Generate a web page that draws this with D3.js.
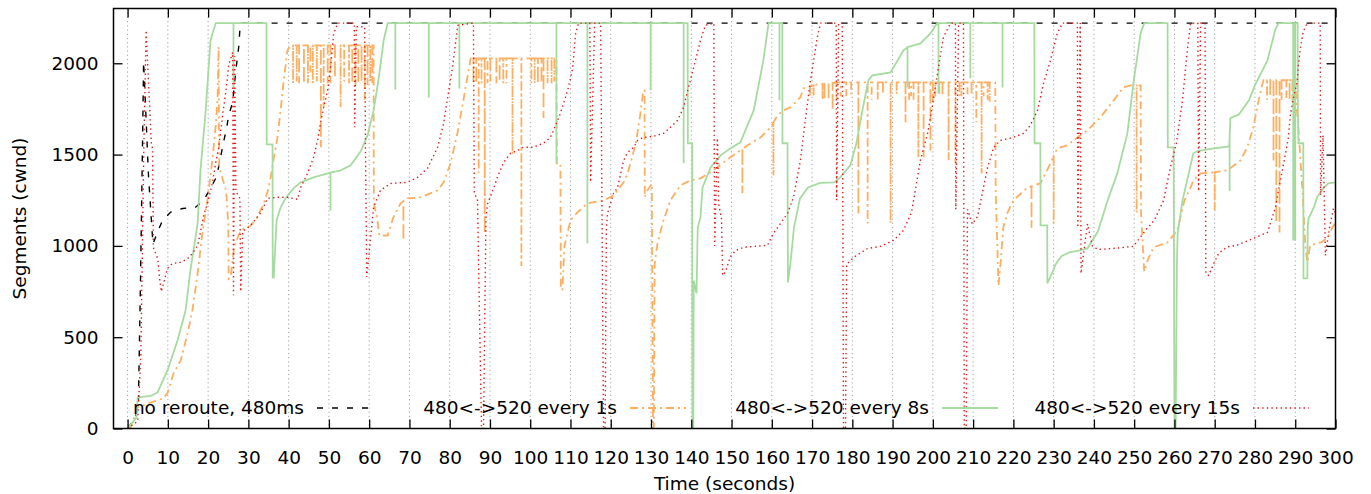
<!DOCTYPE html>
<html><head><meta charset="utf-8">
<script src="https://cdn.jsdelivr.net/npm/d3@7/dist/d3.min.js"></script>
<style>
html,body{margin:0;padding:0;background:#fff;}
text{font-family:"DejaVu Sans",sans-serif;fill:#000;}
</style></head>
<body>
<svg id="chart" width="1371" height="494"></svg>
<script>
// ---------------- data ----------------
const seriesNames = ["no reroute, 480ms", "480<->520 every 1s", "480<->520 every 8s", "480<->520 every 15s"];
const xTicks = d3.range(0, 301, 10);
const yTicks = [0, 500, 1000, 1500, 2000];
const xLabel = "Time (seconds)";
const yLabel = "Segments (cwnd)";

const noReroute = [[0,0],[2.0,60],[2.7,160],[3.2,800],[3.5,1250],[3.8,1700],[3.97,2010],[4.2,1900],[5.2,1380],[6.3,1010],[7.4,1075],[8.7,1140],[10.7,1185],[13.7,1205],[16.9,1212],[18.9,1250],[20.6,1315],[21.9,1370],[22.6,1430],[23.8,1565],[24.6,1645],[25.1,1715],[26.1,1785],[26.8,1945],[27.6,2090],[28.0,2220],[300,2220]];

const every1s = [[0,0],[0.75,5],[2.5,115],[5.7,142],[8.7,164],[9.9,192],[11.4,301],[13.2,373],[14.9,521],[16.1,647],[17.4,850],[18.6,1074],[19.9,1260],[21.1,1480],[21.9,1660],[22.35,1808],[22.6,2090],[22.75,1430],[24.5,1300],[25.0,1120],[25.1,820],[25.6,830],[26.5,1000],[28.1,1085],[30.5,1110],[32.0,1150],[33.8,1230],[34.8,1300],[35.5,1370],[36.3,1480],[37.2,1590],[38.0,1742],[38.7,1890],[39.7,2071],[40.5,2098],[61.1,2098],[61.15,1233],[62.0,1150],[62.5,1057],[64.6,1057],[66.0,1156],[67.8,1233],[69.5,1260],[72.8,1266],[75.2,1288],[77.0,1304],[78.5,1348],[80.2,1452],[81.9,1616],[83.4,1797],[85.2,2027],[106.5,2027],[106.6,1452],[107.5,1452],[107.6,760],[108.0,760],[108.5,1000],[110.0,1140],[111.7,1183],[114.2,1233],[118.2,1249],[120.7,1277],[123.2,1348],[124.2,1397],[126.2,1560],[127.2,1700],[128.1,1852],[128.4,1852],[128.45,1266],[129.0,1300],[130.2,1340],[130.5,0],[130.7,0],[130.9,900],[131.6,1014],[133.1,1140],[134.8,1249],[137.3,1331],[139.8,1359],[142.3,1370],[145.5,1414],[149.7,1485],[154.0,1551],[157.2,1594],[159.7,1649],[161.4,1715],[162.9,1742],[164.6,1759],[167.1,1814],[167.9,1863],[171.3,1885],[176.3,1895],[215.5,1895],[215.6,1300],[216.3,783],[216.8,900],[217.5,1100],[218.5,1180],[220.0,1249],[223.5,1320],[226.7,1342],[228.5,1420],[230.9,1534],[233.4,1551],[235.9,1594],[238.4,1633],[241.6,1704],[244.9,1797],[247.3,1868],[249.1,1879],[251.6,1879],[251.7,1180],[252.5,860],[253.5,930],[254.8,992],[258.3,1019],[260.7,1085],[262.5,1250],[264.0,1320],[264.7,1359],[266.5,1397],[269.7,1403],[273.2,1414],[276.4,1468],[278.1,1540],[279.6,1649],[280.9,1797],[281.9,1890],[282.1,1907],[290.1,1907],[290.2,1800],[290.8,1640],[291.3,1470],[291.8,1300],[292.5,1000],[293.0,910],[293.7,1003],[296.3,1019],[297.9,1041],[299.5,1112],[300,1120]];
const every1sDips = [[41.1,1890],[42.0,1900],[42.6,1890],[43.8,1890],[44.8,1890],[45.4,1950],[46.0,1890],[47.0,1900],[48.0,1540],[48.7,1760],[49.7,1890],[50.4,1890],[51.5,1920],[52.9,1760],[53.8,1900],[55.0,1890],[55.8,1890],[56.6,1880],[57.3,1890],[58.1,1900],[58.9,1800],[59.6,1880],[60.3,1900],[60.8,1890],[68.5,1030],[85.9,1890],[86.6,1890],[87.2,1400],[87.9,1890],[88.7,1070],[89.4,1890],[90.1,1900],[91.6,1890],[92.4,1900],[93.3,1890],[94.1,1890],[95.6,1500],[97.8,890],[100.3,1890],[101.1,1890],[101.9,1890],[102.8,1890],[103.3,1700],[104.3,1890],[105.3,1890],[106.0,1900],[152.7,1288],[160.4,1386],[169.5,1820],[170.4,1820],[172.6,1800],[173.1,1800],[174.1,1800],[175.1,1742],[176.1,1800],[177.1,1820],[178.5,1820],[179.7,1830],[181.5,1178],[183.8,1123],[184.8,1800],[186.3,1800],[187.6,1830],[189.5,1123],[191.0,1830],[193.2,1677],[194.1,1800],[194.6,1820],[195.2,1800],[196.4,1485],[197.7,1485],[199.4,1523],[200.0,1790],[200.6,1820],[201.6,1830],[202.4,1820],[203.9,1468],[205.6,1452],[206.6,1820],[207.1,1820],[208.6,1830],[209.6,1830],[210.8,1677],[212.1,1397],[212.6,1820],[213.6,1800],[214.1,1790],[224.5,1100],[230.0,1123],[250.6,1180],[270.0,1194],[283.0,1800],[283.8,1820],[284.6,1468],[285.3,1129],[286.1,1074],[286.6,1800],[287.8,1810],[288.6,1800],[289.3,1790]];

const every8s = [[0,0],[2.2,60],[2.5,170],[5.7,178],[7.4,197],[9.9,318],[12.4,482],[14.4,646],[15.6,866],[17.4,1123],[18.1,1414],[19.4,1742],[20.6,2126],[21.9,2220],[34.5,2220],[34.55,1556],[36.0,1556],[36.05,827],[36.3,827],[37.0,1140],[38.0,1210],[39.2,1260],[41.2,1315],[43.0,1348],[46.2,1375],[49.7,1397],[52.9,1414],[55.4,1441],[57.9,1518],[59.6,1605],[61.1,1742],[62.3,1907],[63.6,2126],[64.6,2220],[139.1,2220],[139.15,1562],[140.2,1562],[140.3,0],[140.5,0],[140.6,810],[141.3,740],[141.6,1100],[142.3,1160],[142.8,1320],[144.8,1430],[147.3,1496],[149.7,1534],[152.2,1567],[155.5,1742],[157.9,2016],[159.2,2220],[162.6,2220],[162.65,1562],[163.9,1562],[164.0,800],[164.6,900],[165.5,1100],[167.0,1260],[169.0,1320],[172.0,1345],[175.5,1348],[177.0,1375],[179.5,1441],[181.0,1562],[182.5,1742],[184.0,1907],[185.0,1934],[189.5,1950],[192.7,2071],[193.7,2088],[196.9,2109],[199.4,2164],[201.1,2220],[225.2,2220],[225.25,1562],[226.7,1562],[226.75,1112],[228.4,1112],[228.45,795],[229.2,830],[230.5,900],[232.0,945],[234.0,965],[236.5,975],[238.4,986],[241.0,1080],[243.4,1249],[245.8,1397],[248.3,1616],[249.8,1890],[251.6,2164],[252.5,2220],[258.3,2220],[258.35,1540],[259.8,1540],[260.0,0],[260.3,0],[260.6,900],[260.8,1068],[262.0,1249],[264.7,1507],[265.7,1518],[268.5,1530],[273.6,1545],[273.9,1700],[276.0,1720],[278.5,1797],[280.0,1880],[283.1,2016],[285.0,2180],[285.8,2220],[290.6,2220],[290.65,1770],[290.8,1562],[292.0,1562],[292.05,822],[293.0,822],[293.1,1100],[293.3,1150],[294.5,1205],[295.5,1270],[297.0,1315],[298.2,1342],[300,1348]];
const every8sDips = [[26.3,1863],[50.4,1194],[66.5,1857],[74.8,1813],[82.4,1862],[106.5,1452],[114.2,1013],[129.9,1852],[138.1,1452],[161.9,1797],[193.7,1868],[201.4,1835],[209.3,1918],[217.3,1868],[273.7,1300],[289.5,1030],[289.8,1030],[290.0,1030]];

const every15s = [[0,0],[2.5,40],[3.3,400],[4.0,1500],[4.6,2180],[5.9,1560],[6.2,1534],[6.4,990],[7.5,930],[8.0,810],[8.4,750],[9.9,877],[11.2,904],[13.2,910],[14.9,930],[16.1,959],[17.4,1003],[18.1,1074],[18.9,1167],[19.9,1238],[21.1,1348],[21.9,1457],[22.6,1534],[23.6,1715],[24.6,1879],[25.1,1989],[26.1,2060],[26.3,730],[26.6,2040],[26.9,1300],[27.9,1260],[28.1,750],[28.6,1080],[30.5,1110],[33.0,1180],[34.8,1260],[37.2,1266],[39.7,1266],[42.2,1255],[43.0,1320],[44.7,1397],[46.2,1485],[47.2,1578],[47.9,1671],[48.7,1759],[49.7,1852],[50.4,1978],[51.2,2164],[52.2,2220],[56.3,2220],[56.4,1650],[56.8,2200],[58.9,2200],[59.1,1480],[59.4,830],[61.1,1211],[62.8,1304],[65.3,1342],[69.5,1348],[72.0,1375],[74.5,1425],[77.0,1540],[78.5,1671],[79.5,1814],[80.7,1978],[82.0,2208],[85.9,2220],[86.1,1290],[86.9,1250],[87.9,0],[88.4,0],[89.0,1150],[89.4,1230],[90.9,1315],[91.9,1380],[93.4,1457],[95.1,1507],[96.9,1523],[98.3,1540],[100.8,1540],[103.3,1562],[105.0,1594],[105.8,1633],[107.5,1726],[109.3,1852],[110.5,1967],[111.3,2164],[112.0,2220],[114.8,2220],[115.0,1350],[116.0,2220],[117.5,2220],[118.2,0],[118.6,0],[118.9,1085],[119.2,1178],[120.7,1288],[121.7,1320],[123.2,1468],[124.2,1512],[125.7,1540],[126.7,1578],[128.1,1594],[130.6,1600],[133.1,1616],[134.8,1649],[136.6,1688],[138.1,1759],[139.3,1868],[140.6,1978],[142.3,2126],[143.5,2208],[145.6,2220],[145.8,1000],[146.5,1590],[146.8,1230],[147.5,1150],[147.8,838],[148.5,860],[149.7,940],[151.0,975],[153.0,992],[155.5,997],[158.9,1003],[160.4,1068],[163.9,1178],[165.4,1266],[167.1,1468],[168.4,1704],[169.6,1907],[171.3,2142],[172.1,2220],[176.0,2220],[176.1,1250],[176.6,2220],[177.5,2220],[177.8,0],[178.3,0],[178.6,900],[180.5,940],[183.8,986],[187.0,997],[190.2,1030],[192.7,1085],[194.7,1183],[196.9,1468],[198.7,1616],[200.1,1797],[201.4,1978],[202.6,2142],[204.4,2220],[205.6,2220],[205.7,1200],[206.4,2220],[207.6,2220],[207.8,0],[208.3,0],[208.6,1200],[209.8,1120],[211.1,1160],[213.6,1430],[215.1,1540],[216.8,1578],[220.0,1594],[222.5,1616],[224.2,1660],[226.0,1742],[227.5,1890],[229.2,2016],[230.9,2164],[232.2,2220],[235.9,2220],[236.0,1100],[236.6,2220],[236.8,850],[238.4,1120],[239.6,1000],[241.0,980],[244.8,986],[249.8,997],[252.8,1085],[255.0,1140],[257.3,1249],[259.0,1430],[260.5,1562],[262.0,1797],[263.2,2071],[264.0,2220],[265.8,2220],[266.0,1300],[266.5,2220],[267.6,2220],[267.8,850],[268.5,838],[269.7,900],[271.0,960],[273.2,995],[275.5,1003],[279.6,1041],[283.1,1074],[285.1,1211],[285.8,1300],[286.8,1414],[287.6,1507],[288.3,1594],[288.8,1720],[289.6,1814],[290.5,1900],[290.8,1995],[291.3,2088],[292.0,2175],[293.0,2220],[296.2,2220],[296.3,1277],[296.9,1605],[297.5,948],[298.5,1100],[299.5,1205],[300,1180]];

// ---------------- layout / style ----------------
const M = {left: 113.5, right: 1335.5, top: 8.5, bottom: 428.5};
const FONT = 18.5;

const svg = d3.select("#chart");
const x = d3.scaleLinear().domain([-3.5, 300]).range([M.left, M.right]);
const y = d3.scaleLinear().domain([0, 2300]).range([M.bottom, M.top]);

function withDips(points, dips) {
  const out = points.map(p => p.slice());
  const interp = t => {
    for (let i = 1; i < points.length; i++) {
      if (points[i][0] >= t) {
        const a = points[i-1], b = points[i];
        return a[1] + (b[1]-a[1]) * (t - a[0]) / (b[0] - a[0]);
      }
    }
    return points[points.length-1][1];
  };
  (dips || []).forEach(([t, low]) => {
    const v = interp(t);
    out.push([t, v], [t + 0.001, low], [t + 0.002, v]);
  });
  return out.sort((a, b) => a[0] - b[0]);
}

svg.append("defs").append("clipPath").attr("id", "plotclip")
  .append("rect").attr("x", M.left).attr("y", M.top)
  .attr("width", M.right - M.left).attr("height", M.bottom - M.top);

// vertical grid
svg.append("g").selectAll("line").data(xTicks).join("line")
  .attr("x1", d => x(d)).attr("x2", d => x(d))
  .attr("y1", M.top).attr("y2", M.bottom)
  .attr("stroke", "#a0a0a0").attr("stroke-width", 1)
  .attr("stroke-dasharray", "1.2,3");

const series = [
  {name: seriesNames[0], data: noReroute, dips: [], color: "#000000", width: 1.4, dash: "6,9"},
  {name: seriesNames[1], data: every1s, dips: every1sDips, color: "#fdae61", width: 1.8, dash: "8,4,2,4"},
  {name: seriesNames[2], data: every8s, dips: every8sDips, color: "#a6dba0", width: 1.8, dash: null},
  {name: seriesNames[3], data: every15s, dips: [], color: "#e41a1c", width: 1.4, dash: "1.4,3.2"}
];

const line = d3.line().x(d => x(d[0])).y(d => y(d[1]));
const plotG = svg.append("g").attr("clip-path", "url(#plotclip)");
series.forEach(s => {
  plotG.append("path")
    .attr("d", line(withDips(s.data, s.dips)))
    .attr("fill", "none")
    .attr("stroke", s.color)
    .attr("stroke-width", s.width)
    .attr("stroke-dasharray", s.dash);
});

// border
svg.append("rect").attr("x", M.left).attr("y", M.top)
  .attr("width", M.right - M.left).attr("height", M.bottom - M.top)
  .attr("fill", "none").attr("stroke", "#000").attr("stroke-width", 1.5);

// axes (ticks inward, mirrored)
const TL = 9;
const xb = svg.append("g").attr("transform", `translate(0,${M.bottom})`)
  .call(d3.axisBottom(x).tickValues(xTicks).tickSizeInner(-TL).tickSizeOuter(0).tickPadding(TL + 13).tickFormat(d3.format("d")));
const xt = svg.append("g").attr("transform", `translate(0,${M.top})`)
  .call(d3.axisTop(x).tickValues(xTicks).tickSizeInner(-TL).tickSizeOuter(0).tickFormat(""));
const yl = svg.append("g").attr("transform", `translate(${M.left},0)`)
  .call(d3.axisLeft(y).tickValues(yTicks).tickSizeInner(-TL).tickSizeOuter(0).tickPadding(TL + 6).tickFormat(d3.format("d")));
const yr = svg.append("g").attr("transform", `translate(${M.right},0)`)
  .call(d3.axisRight(y).tickValues(yTicks).tickSizeInner(-TL).tickSizeOuter(0).tickFormat(""));
[xb, xt, yl, yr].forEach(g => {
  g.select(".domain").remove();
  g.selectAll(".tick line").attr("stroke", "#000").attr("stroke-width", 1.3);
  g.selectAll("text").attr("font-family", "DejaVu Sans").attr("font-size", FONT).attr("fill", "#000");
});

// axis labels
svg.append("text").attr("x", (M.left + M.right) / 2).attr("y", 490)
  .attr("text-anchor", "middle").attr("font-size", FONT).text(xLabel);
svg.append("text").attr("transform", `translate(26,${(M.top + M.bottom) / 2}) rotate(-90)`)
  .attr("text-anchor", "middle").attr("font-size", FONT).text(yLabel);

// legend
const legendSampleX = [317, 630, 942, 1253];
const SAMPLE_LEN = 56;
const legY = 408;
const lg = svg.append("g");
series.forEach((s, i) => {
  lg.append("text").attr("x", legendSampleX[i] - 13).attr("y", legY)
    .attr("dy", "0.35em").attr("text-anchor", "end").attr("font-size", FONT).text(s.name);
  lg.append("line").attr("x1", legendSampleX[i]).attr("x2", legendSampleX[i] + SAMPLE_LEN)
    .attr("y1", legY).attr("y2", legY)
    .attr("stroke", s.color).attr("stroke-width", s.width).attr("stroke-dasharray", s.dash);
});
</script>
</body></html>
